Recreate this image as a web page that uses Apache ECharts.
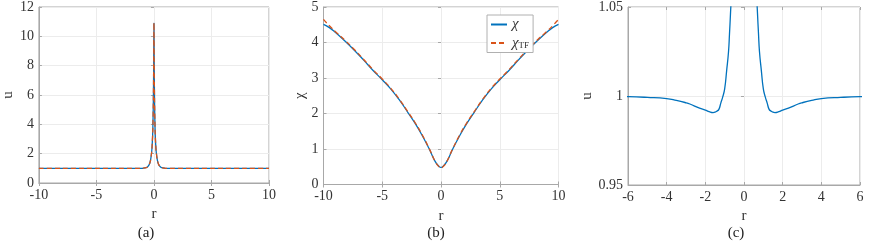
<!DOCTYPE html>
<html>
<head>
<meta charset="utf-8">
<script src="https://cdn.jsdelivr.net/npm/echarts@6/dist/echarts.min.js"></script>
<style>
html,body{margin:0;padding:0;background:#fff;}
#c{width:872px;height:245px;}
</style>
</head>
<body>
<div id="c"></div>
<script>
// ---- data ----
const rU = [-10,-8,-6,-5,-4,-3.5,-3,-2.8,-2.3,-2,-1.8,-1.6,-1.5,-1.4,-1.3,-1.2,-1.1,-1,-0.9,-0.8,-0.75,-0.7,-0.6,-0.5,-0.4,-0.3,-0.2,-0.15,-0.1,-0.05,-0.02,0,
            0.02,0.05,0.1,0.15,0.2,0.3,0.4,0.5,0.6,0.7,0.75,0.8,0.9,1,1.1,1.2,1.3,1.4,1.5,1.6,1.8,2,2.3,2.8,3,3.5,4,5,6,8,10];
const uVals = [0.9999,0.9998,0.9996,0.9992,0.9985,0.9975,0.9962,0.9955,0.9932,0.9921,0.9912,0.9907,0.9909,0.9915,0.9925,0.996,0.9995,1.004,1.014,1.025,1.035,1.046,1.07,1.15,1.28,1.55,2.1,2.65,3.6,5.7,8.3,10.9,
               8.3,5.7,3.6,2.65,2.1,1.55,1.28,1.15,1.07,1.046,1.035,1.025,1.014,1.004,0.9995,0.996,0.9925,0.9915,0.9909,0.9907,0.9912,0.9921,0.9932,0.9955,0.9962,0.9975,0.9985,0.9992,0.9996,0.9998,0.9999];
const uTFVals = [0.9999,0.9998,0.9996,0.9992,0.9985,0.9975,0.9962,0.9955,0.9932,0.9921,0.9912,0.9907,0.9909,0.9915,0.9925,0.996,0.9995,1.004,1.014,1.025,1.035,1.046,1.07,1.15,1.28,1.55,2.1,2.65,3.6,5.7,8.3,10.9,
               8.3,5.7,3.6,2.65,2.1,1.55,1.28,1.15,1.07,1.046,1.035,1.025,1.014,1.004,0.9995,0.996,0.9925,0.9915,0.9909,0.9907,0.9912,0.9921,0.9932,0.9955,0.9962,0.9975,0.9985,0.9992,0.9996,0.9998,0.9999];
const rB = [-10,-9.5,-9,-8.2,-7.4,-6.6,-5.8,-5,-4.3,-3.5,-2.8,-2.2,-1.6,-1,-0.5,-0.2,0,0.2,0.5,1,1.6,2.2,2.8,3.5,4.3,5,5.8,6.6,7.4,8.2,9,9.5,10];
const chiVals = [4.51,4.42,4.29,4.05,3.79,3.51,3.22,2.95,2.70,2.36,2.02,1.72,1.38,1.00,0.65,0.52,0.48,0.52,0.65,1.00,1.38,1.72,2.02,2.36,2.70,2.95,3.22,3.51,3.79,4.05,4.29,4.42,4.51];
const chiTFVals = [4.65,4.47,4.31,4.07,3.81,3.53,3.24,2.97,2.72,2.38,2.04,1.74,1.40,1.01,0.65,0.51,0.47,0.51,0.65,1.01,1.40,1.74,2.04,2.38,2.72,2.97,3.24,3.53,3.81,4.07,4.31,4.47,4.65];
const panelLabels = ['(a)','(b)','(c)'];

const pairs = (xs, ys) => xs.map((x,i)=>[x, ys[i]]);

const FONT = '"Liberation Serif", "Times New Roman", serif';
const BLUE = '#0072BD', ORANGE = '#D95319';
const AX = '#a8a8a8', GRID = '#ececec', TXT = '#333';

function xAx(g, min, max, itv, name){
  return {gridIndex:g, type:'value', min, max, interval:itv,
    axisLine:{show:true, onZero:false, lineStyle:{color:AX}},
    axisTick:{show:true, inside:true, length:3, lineStyle:{color:AX}},
    axisLabel:{color:TXT, fontFamily:FONT, fontSize:14, margin:5},
    splitLine:{show:true, lineStyle:{color:GRID}},
    name, nameLocation:'middle', nameGap:18,
    nameTextStyle:{color:TXT, fontFamily:FONT, fontSize:15}};
}
function yAx(g, min, max, itv, name, gap){
  return {gridIndex:g, type:'value', min, max, interval:itv,
    axisLine:{show:true, onZero:false, lineStyle:{color:AX}},
    axisTick:{show:true, inside:true, length:3, lineStyle:{color:AX}},
    axisLabel:{color:TXT, fontFamily:FONT, fontSize:14, margin:5},
    splitLine:{show:true, lineStyle:{color:GRID}},
    name, nameLocation:'middle', nameGap:gap, nameRotate:90,
    nameTextStyle:{color:TXT, fontFamily:FONT, fontSize:15}};
}
function mirrorX(g, min, max, itv){
  return {gridIndex:g, type:'value', position:'top', min, max, interval:itv,
    axisLine:{show:false}, axisTick:{show:true, inside:true, length:3, lineStyle:{color:AX}},
    axisLabel:{show:false}, splitLine:{show:false}};
}
function mirrorY(g, min, max, itv){
  return {gridIndex:g, type:'value', position:'right', min, max, interval:itv,
    axisLine:{show:false}, axisTick:{show:true, inside:true, length:3, lineStyle:{color:AX}},
    axisLabel:{show:false}, splitLine:{show:false}};
}

const chart = echarts.init(document.getElementById('c'), null, {renderer:'canvas'});
const option = {
  animation:false,
  backgroundColor:'#fff',
  grid:[
    {left:33, top:6, width:236, height:177, show:true, borderColor:AX, borderWidth:1},
    {left:323.5, top:7, width:235, height:177.5, show:true, borderColor:AX, borderWidth:1},
    {left:628, top:7, width:232, height:178, show:true, borderColor:AX, borderWidth:1}
  ],
  xAxis:[
    xAx(0,-10,10,5,'r'),
    xAx(1,-10,10,5,'r'),
    xAx(2,-6,6,2,'r'),
    mirrorX(0,-10,10,5), mirrorX(1,-10,10,5), mirrorX(2,-6,6,2)
  ],
  yAxis:[
    yAx(0,0,12,2,'u',19),
    yAx(1,0,5,1,'χ',9),
    yAx(2,0.95,1.05,0.05,'u',26),
    mirrorY(0,0,12,2), mirrorY(1,0,5,1), mirrorY(2,0.95,1.05,0.05)
  ],
  legend:{
    data:['χ','χTF'], orient:'vertical', left:487, top:15,
    backgroundColor:'#fff', borderColor:'#b0b0b0', borderWidth:1,
    padding:[2,4,2,3], itemGap:3, itemWidth:16, itemHeight:12,
    itemStyle:{opacity:0},
    formatter: n => n==='χ' ? '{m|χ}' : '{m|χ}{s|TF}',
    textStyle:{color:TXT, fontFamily:FONT, fontSize:14,
      rich:{m:{fontFamily:FONT, fontSize:15, fontStyle:'italic', color:TXT, lineHeight:14},
            s:{fontFamily:FONT, fontSize:9, color:TXT, verticalAlign:'bottom', lineHeight:14, padding:[6,0,0,0]}}}
  },
  series:[
    {name:'ua', type:'line', xAxisIndex:0, yAxisIndex:0, data:pairs(rU,uVals), symbol:'none', smooth:0.3,
      lineStyle:{color:BLUE, width:1.3}, itemStyle:{color:BLUE}},
    {name:'uTFa', type:'line', xAxisIndex:0, yAxisIndex:0, data:pairs(rU,uTFVals), symbol:'none', smooth:0.3,
      lineStyle:{color:ORANGE, width:1.3, type:[5,3]}, itemStyle:{color:ORANGE}},
    {name:'χ', type:'line', xAxisIndex:1, yAxisIndex:1, data:pairs(rB,chiVals), symbol:'none', smooth:0.5,
      lineStyle:{color:BLUE, width:1.3}, itemStyle:{color:BLUE}},
    {name:'χTF', type:'line', xAxisIndex:1, yAxisIndex:1, data:pairs(rB,chiTFVals), symbol:'none', smooth:0.5,
      lineStyle:{color:ORANGE, width:1.3, type:[5,3]}, itemStyle:{color:ORANGE}},
    {name:'uc', type:'line', xAxisIndex:2, yAxisIndex:2, data:pairs(rU,uVals), symbol:'none', smooth:0.5, clip:true,
      lineStyle:{color:BLUE, width:1.3}, itemStyle:{color:BLUE}}
  ],
  graphic:[
    {type:'text', x:146, y:233, style:{text:panelLabels[0], align:'center', verticalAlign:'middle', font:'15px "Liberation Serif"', fill:'#222'}},
    {type:'text', x:436, y:233, style:{text:panelLabels[1], align:'center', verticalAlign:'middle', font:'15px "Liberation Serif"', fill:'#222'}},
    {type:'text', x:736, y:233, style:{text:panelLabels[2], align:'center', verticalAlign:'middle', font:'15px "Liberation Serif"', fill:'#222'}}
  ]
};
chart.setOption(option);
</script>
</body>
</html>
